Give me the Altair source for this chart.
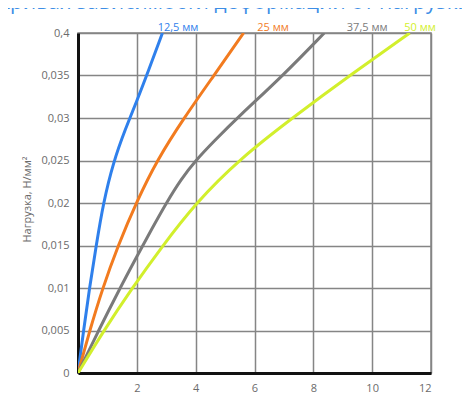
import altair as alt
import pandas as pd

# Curves: deformation (mm) vs load (N/mm^2)
series_names = ["12,5 мм", "25 мм", "37,5 мм", "50 мм"]
series_colors = ["#2f80ec", "#f27b1f", "#7a7a7a", "#d2ef2c"]

blue_x = [0.0, 0.19, 0.39, 0.62, 0.86, 1.20, 1.62, 2.00, 2.40, 2.87]
blue_y = [0.0, 0.0050, 0.0100, 0.0150, 0.0200, 0.0248, 0.0288, 0.0320, 0.0356, 0.0400]

orange_x = [0.0, 0.40, 0.82, 1.36, 2.00, 2.68, 3.60, 4.60, 5.63]
orange_y = [0.0, 0.0050, 0.0098, 0.0150, 0.0202, 0.0250, 0.0300, 0.0349, 0.0400]

gray_x = [0.0, 0.70, 1.40, 2.00, 2.50, 3.00, 3.50, 4.00, 4.60, 5.50, 6.97, 8.37]
gray_y = [0.0, 0.0050, 0.0098, 0.0137, 0.0169, 0.0200, 0.0228, 0.0250, 0.0272, 0.0303, 0.0350, 0.0400]

yellow_x = [0.0, 0.88, 1.82, 2.84, 4.00, 5.50, 7.36, 9.32, 11.28]
yellow_y = [0.0, 0.0050, 0.0099, 0.0148, 0.0200, 0.0252, 0.0302, 0.0352, 0.0400]

label_x = [3.4, 6.63, 9.83, 11.63]

x_ticks = [0, 2, 4, 6, 8, 10, 12]
x_tick_labels = ["", "2", "4", "6", "8", "10", "12"]
y_ticks = [0, 0.005, 0.01, 0.015, 0.02, 0.025, 0.03, 0.035, 0.04]
y_tick_labels = ["0", "0,005", "0,01", "0,015", "0,02", "0,025", "0,03", "0,035", "0,4"]

title_text = "Кривая зависимости деформации от нагрузки"

rows = []
for name, xs, ys in zip(series_names, [blue_x, orange_x, gray_x, yellow_x],
                        [blue_y, orange_y, gray_y, yellow_y]):
    for i, (a, b) in enumerate(zip(xs, ys)):
        rows.append({"series": name, "x": a, "y": b, "order": i})
df = pd.DataFrame(rows)
labels_df = pd.DataFrame({"series": series_names, "x": label_x, "y": [0.04] * 4})


def label_expr(values, labels):
    expr = "''"
    for v, l in zip(values, labels):
        expr = f"abs(datum.value - {v}) < 1e-9 ? '{l}' : ({expr})"
    return expr


FONT = "Open Sans"
LABEL_COLOR = "#6b6b6b"

xscale = alt.Scale(domain=[0, 12], nice=False)
yscale = alt.Scale(domain=[0, 0.04], nice=False)
color_scale = alt.Scale(domain=series_names, range=series_colors)

xaxis = alt.Axis(values=x_ticks, labelExpr=label_expr(x_ticks, x_tick_labels),
                 title=None, grid=True, gridColor="#858585", gridWidth=1.5,
                 domainColor="#111111", domainWidth=3, ticks=False,
                 labelPadding=9, labelFontSize=11, labelColor=LABEL_COLOR,
                 labelFont=FONT)
yaxis = alt.Axis(values=y_ticks, labelExpr=label_expr(y_ticks, y_tick_labels),
                 title="Нагрузка, Н/мм²", grid=True, gridColor="#858585",
                 gridWidth=1.5, domainColor="#111111", domainWidth=3,
                 ticks=False, labelPadding=9, labelFontSize=11,
                 labelColor=LABEL_COLOR, labelFont=FONT,
                 titleFont=FONT, titleFontSize=11, titleFontWeight="normal",
                 titleColor=LABEL_COLOR, titleX=-51, titleY=166, titleAngle=270,
                 titleAlign="center", titleBaseline="middle")

lines = alt.Chart(df).mark_line(strokeWidth=3, interpolate="basis", clip=True).encode(
    x=alt.X("x:Q", scale=xscale, axis=xaxis),
    y=alt.Y("y:Q", scale=yscale, axis=yaxis),
    color=alt.Color("series:N", scale=color_scale, legend=None),
    order="order:Q",
)

labels = alt.Chart(labels_df).mark_text(fontSize=11, font=FONT, dy=-5, baseline="middle").encode(
    x=alt.X("x:Q", scale=xscale),
    y=alt.Y("y:Q", scale=yscale),
    text="series:N",
    color=alt.Color("series:N", scale=color_scale, legend=None),
)

title = alt.Chart(pd.DataFrame({"t": [title_text]})).mark_text(
    fontSize=21, font=FONT, color="#3d8ee6", align="center", baseline="alphabetic"
).encode(x=alt.value(156), y=alt.value(-24), text="t:N")

chart = alt.layer(lines, labels, title).properties(
    width=353, height=340,
    autosize=alt.AutoSizeParams(type="none"),
    padding={"left": 70, "top": 25, "right": 31, "bottom": 23},
).configure_view(stroke="#858585", strokeWidth=1.5)

chart.save("out.html", embed_options={"renderer": "svg", "actions": False})
